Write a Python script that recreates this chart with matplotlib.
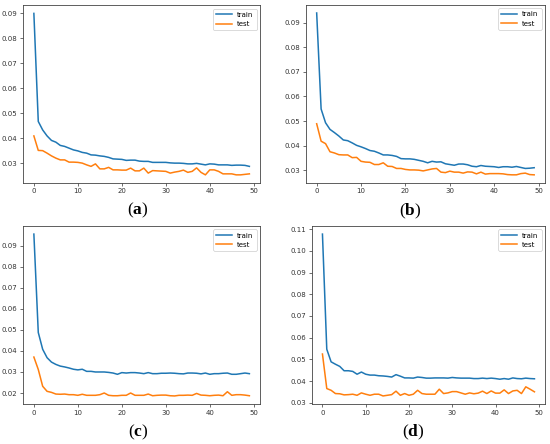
import matplotlib
matplotlib.use("Agg")
import matplotlib.pyplot as plt
import numpy as np

# loss curves, 50 epochs each
epochs = np.arange(50)

train_a = [0.0900, 0.0467, 0.0433, 0.0409, 0.0391, 0.0384, 0.0371, 0.0367, 0.0360, 0.0353,
           0.0349, 0.0343, 0.0340, 0.0333, 0.0332, 0.0329, 0.0327, 0.0323, 0.0317, 0.0316,
           0.0315, 0.0311, 0.0312, 0.0312, 0.0308, 0.0307, 0.0307, 0.0303, 0.0303, 0.0303,
           0.0303, 0.0301, 0.0300, 0.0300, 0.0299, 0.0297, 0.0297, 0.0299, 0.0296, 0.0293,
           0.0297, 0.0296, 0.0293, 0.0293, 0.0293, 0.0291, 0.0292, 0.0292, 0.0291, 0.0287]
test_a = [0.0409, 0.0351, 0.0350, 0.0340, 0.0329, 0.0320, 0.0313, 0.0313, 0.0304, 0.0304,
          0.0303, 0.0300, 0.0293, 0.0287, 0.0297, 0.0277, 0.0277, 0.0283, 0.0273, 0.0273,
          0.0272, 0.0272, 0.0280, 0.0269, 0.0269, 0.0280, 0.0260, 0.0270, 0.0269, 0.0268,
          0.0267, 0.0260, 0.0264, 0.0267, 0.0272, 0.0263, 0.0267, 0.0281, 0.0263, 0.0253,
          0.0273, 0.0273, 0.0267, 0.0257, 0.0257, 0.0257, 0.0253, 0.0253, 0.0255, 0.0257]

train_b = [0.0940, 0.0549, 0.0493, 0.0466, 0.0453, 0.0439, 0.0423, 0.0420, 0.0411, 0.0401,
           0.0395, 0.0388, 0.0380, 0.0377, 0.0370, 0.0362, 0.0362, 0.0360, 0.0356, 0.0347,
           0.0346, 0.0346, 0.0344, 0.0340, 0.0336, 0.0330, 0.0336, 0.0333, 0.0334, 0.0326,
           0.0323, 0.0320, 0.0325, 0.0325, 0.0322, 0.0316, 0.0314, 0.0319, 0.0316, 0.0315,
           0.0314, 0.0311, 0.0314, 0.0314, 0.0312, 0.0315, 0.0311, 0.0307, 0.0308, 0.0310]
test_b = [0.0489, 0.0418, 0.0408, 0.0375, 0.0370, 0.0363, 0.0362, 0.0362, 0.0351, 0.0352,
          0.0336, 0.0333, 0.0332, 0.0323, 0.0323, 0.0330, 0.0316, 0.0315, 0.0307, 0.0307,
          0.0303, 0.0301, 0.0301, 0.0300, 0.0297, 0.0301, 0.0305, 0.0307, 0.0292, 0.0290,
          0.0296, 0.0292, 0.0292, 0.0288, 0.0293, 0.0292, 0.0285, 0.0292, 0.0284, 0.0286,
          0.0286, 0.0286, 0.0285, 0.0282, 0.0281, 0.0281, 0.0286, 0.0288, 0.0282, 0.0281]

train_c = [0.0956, 0.0488, 0.0408, 0.0368, 0.0347, 0.0336, 0.0328, 0.0324, 0.0319, 0.0313,
           0.0310, 0.0313, 0.0303, 0.0303, 0.0300, 0.0300, 0.0300, 0.0298, 0.0295, 0.0289,
           0.0297, 0.0295, 0.0297, 0.0297, 0.0295, 0.0292, 0.0297, 0.0292, 0.0292, 0.0294,
           0.0294, 0.0295, 0.0294, 0.0292, 0.0291, 0.0295, 0.0295, 0.0294, 0.0291, 0.0295,
           0.0289, 0.0292, 0.0292, 0.0294, 0.0295, 0.0289, 0.0289, 0.0292, 0.0295, 0.0292]
test_c = [0.0371, 0.0312, 0.0232, 0.0208, 0.0203, 0.0195, 0.0194, 0.0195, 0.0192, 0.0192,
          0.0189, 0.0194, 0.0189, 0.0189, 0.0189, 0.0192, 0.0200, 0.0189, 0.0187, 0.0187,
          0.0189, 0.0189, 0.0200, 0.0189, 0.0189, 0.0189, 0.0195, 0.0187, 0.0189, 0.0190,
          0.0190, 0.0187, 0.0186, 0.0189, 0.0189, 0.0190, 0.0189, 0.0198, 0.0190, 0.0189,
          0.0187, 0.0189, 0.0190, 0.0187, 0.0206, 0.0189, 0.0192, 0.0192, 0.0190, 0.0187]

train_d = [0.1077, 0.0547, 0.0489, 0.0478, 0.0468, 0.0448, 0.0448, 0.0445, 0.0432, 0.0442,
           0.0432, 0.0428, 0.0428, 0.0425, 0.0424, 0.0422, 0.0419, 0.0430, 0.0423, 0.0415,
           0.0415, 0.0414, 0.0419, 0.0417, 0.0414, 0.0414, 0.0415, 0.0415, 0.0415, 0.0414,
           0.0417, 0.0415, 0.0414, 0.0414, 0.0414, 0.0412, 0.0412, 0.0414, 0.0412, 0.0414,
           0.0412, 0.0409, 0.0412, 0.0409, 0.0415, 0.0412, 0.0411, 0.0414, 0.0412, 0.0411]
test_d = [0.0525, 0.0366, 0.0358, 0.0343, 0.0342, 0.0337, 0.0338, 0.0340, 0.0335, 0.0346,
          0.0340, 0.0335, 0.0340, 0.0340, 0.0332, 0.0335, 0.0338, 0.0354, 0.0335, 0.0343,
          0.0335, 0.0340, 0.0358, 0.0343, 0.0340, 0.0340, 0.0340, 0.0363, 0.0343, 0.0346,
          0.0352, 0.0352, 0.0346, 0.0340, 0.0346, 0.0342, 0.0345, 0.0354, 0.0343, 0.0355,
          0.0345, 0.0345, 0.0360, 0.0343, 0.0355, 0.0358, 0.0343, 0.0374, 0.0363, 0.0351]

panel_labels = ["a", "b", "c", "d"]

plt.rcParams["mathtext.fontset"] = "custom"
plt.rcParams["mathtext.rm"] = "Liberation Serif"
plt.rcParams["mathtext.bf"] = "Liberation Serif:bold"

fig = plt.figure(figsize=(5.5, 4.44), dpi=100)

# [left, bottom, width, height] in figure fraction
boxes = [
    [0.042, 0.588, 0.431, 0.400],
    [0.556, 0.588, 0.435, 0.401],
    [0.042, 0.090, 0.431, 0.401],
    [0.567, 0.090, 0.424, 0.401],
]
label_pos = [(0.251, 0.527), (0.745, 0.523), (0.251, 0.027), (0.751, 0.027)]

data = [(train_a, test_a), (train_b, test_b), (train_c, test_c), (train_d, test_d)]

for box, (tr, te), lab, (lx, ly) in zip(boxes, data, panel_labels, label_pos):
    ax = fig.add_axes(box)
    ax.plot(epochs, tr, color="tab:blue", lw=1.1, label="train")
    ax.plot(epochs, te, color="tab:orange", lw=1.1, label="test")
    ax.set_xticks([0, 10, 20, 30, 40, 50])
    ax.tick_params(labelsize=5, length=2.5, width=0.5, pad=1.5, colors="#333333")
    for sp in ax.spines.values():
        sp.set_linewidth(0.6)
        sp.set_color("#444444")
    leg = ax.legend(loc="upper right", fontsize=5, handlelength=2.2,
                    borderpad=0.45, labelspacing=0.45, framealpha=1.0)
    leg.get_frame().set_linewidth(0.5)
    fig.text(lx, ly, r"($\mathbf{%s}$)" % lab, ha="center", va="center",
             fontsize=12.5, family="Liberation Serif")

fig.savefig("out.png", dpi=100)
